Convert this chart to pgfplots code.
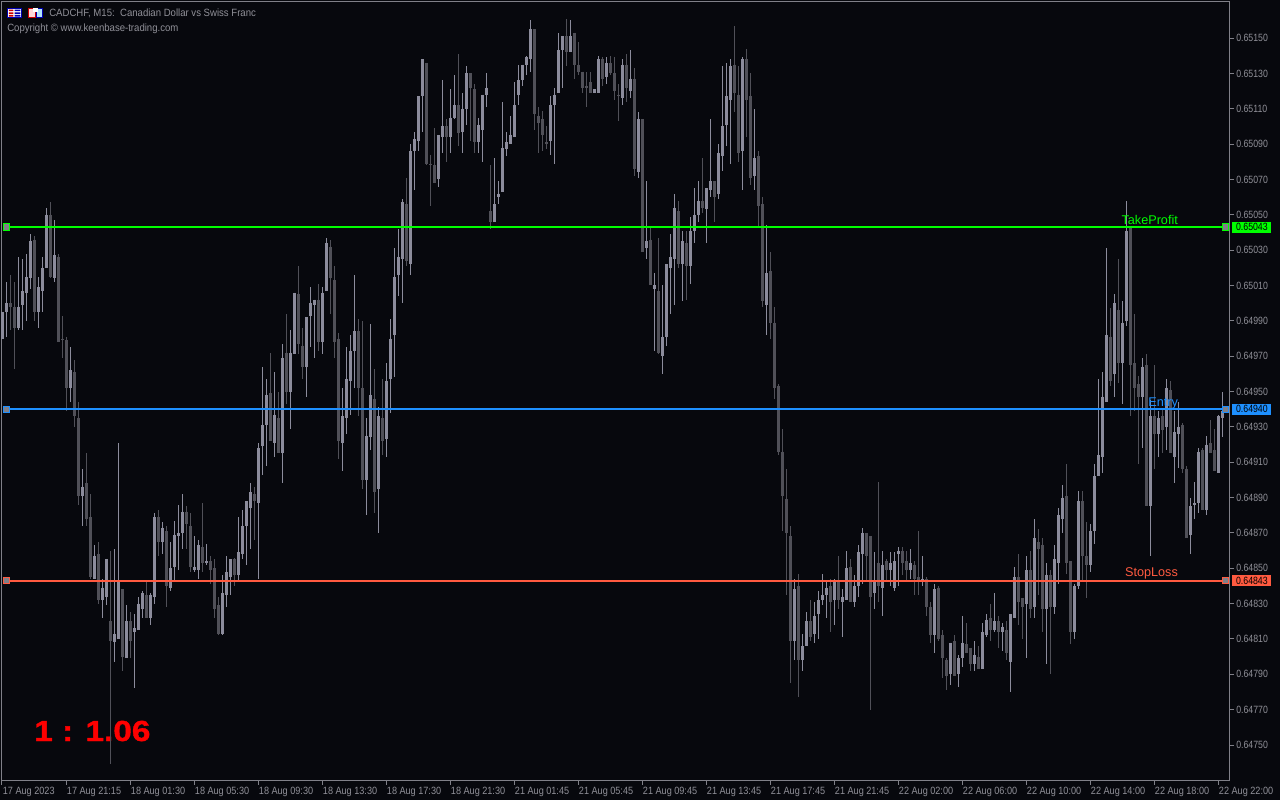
\documentclass[border=0pt]{standalone}
\usepackage{fontspec}
\setmainfont{Liberation Sans}
\newfontfamily\ytickfont[FakeStretch=0.83]{Liberation Sans}
\newfontfamily\xtickfont[FakeStretch=0.865]{Liberation Sans}
\newfontfamily\headfont[FakeStretch=0.91]{Liberation Sans}
\newfontfamily\ratiofont[FakeBold=1.2]{Liberation Sans Bold}
\usepackage{pgfplots}
\usepackage{pgfplotstable}
\pgfplotsset{compat=1.18}

\definecolor{chartbg}{HTML}{07080D}
\definecolor{framecol}{HTML}{808088}
\definecolor{textcol}{HTML}{909098}
\definecolor{upcol}{HTML}{8C8C9C}
\definecolor{dncol}{HTML}{505058}
\definecolor{tpcol}{HTML}{00FF00}
\definecolor{encol}{HTML}{1E90FF}
\definecolor{slcol}{HTML}{FF5A40}

% i high low top bottom, light candles
\pgfplotstableread{
i h l t b
0 0.64995 0.64980 0.64995 0.64980
1 0.65012 0.64981 0.65000 0.64995
4 0.65026 0.64985 0.64998 0.64986
5 0.65025 0.64985 0.65007 0.64999
6 0.65028 0.64990 0.65015 0.65006
7 0.65039 0.65008 0.65035 0.65014
9 0.65015 0.64986 0.65009 0.64995
10 0.65026 0.64995 0.65020 0.65007
11 0.65054 0.65020 0.65050 0.65020
13 0.65047 0.65012 0.65027 0.65014
17 0.64975 0.64944 0.64962 0.64952
20 0.64906 0.64874 0.64896 0.64891
23 0.64863 0.64844 0.64857 0.64844
25 0.64844 0.64822 0.64839 0.64832
26 0.64855 0.64829 0.64855 0.64834
28 0.64861 0.64797 0.64813 0.64808
29 0.64921 0.64810 0.64842 0.64810
31 0.64829 0.64799 0.64820 0.64799
33 0.64824 0.64782 0.64816 0.64814
34 0.64834 0.64815 0.64830 0.64815
35 0.64837 0.64822 0.64836 0.64827
37 0.64836 0.64818 0.64835 0.64822
38 0.64881 0.64830 0.64879 0.64834
40 0.64876 0.64858 0.64873 0.64865
42 0.64865 0.64837 0.64850 0.64839
43 0.64877 0.64842 0.64869 0.64851
44 0.64886 0.64849 0.64870 0.64868
45 0.64892 0.64861 0.64882 0.64870
48 0.64868 0.64848 0.64851 0.64849
49 0.64866 0.64844 0.64863 0.64849
51 0.64864 0.64852 0.64854 0.64853
55 0.64846 0.64812 0.64836 0.64813
56 0.64857 0.64828 0.64848 0.64835
57 0.64855 0.64835 0.64855 0.64845
59 0.64879 0.64843 0.64859 0.64846
60 0.64883 0.64855 0.64874 0.64858
61 0.64888 0.64852 0.64888 0.64874
62 0.64898 0.64861 0.64893 0.64884
64 0.64921 0.64844 0.64918 0.64887
65 0.64964 0.64903 0.64931 0.64919
66 0.64957 0.64908 0.64948 0.64931
68 0.64961 0.64913 0.64937 0.64921
70 0.64977 0.64898 0.64969 0.64915
72 0.64985 0.64929 0.64972 0.64950
73 0.65006 0.64971 0.65006 0.64971
76 0.64992 0.64947 0.64992 0.64964
77 0.65009 0.64975 0.65000 0.64993
78 0.65002 0.64969 0.65002 0.64999
80 0.65009 0.64971 0.65006 0.64978
81 0.65037 0.65007 0.65034 0.65007
85 0.64952 0.64905 0.64936 0.64921
86 0.64975 0.64926 0.64957 0.64935
87 0.64982 0.64937 0.64973 0.64956
88 0.65016 0.64952 0.64984 0.64973
91 0.64935 0.64880 0.64925 0.64900
92 0.64988 0.64917 0.64948 0.64924
94 0.64941 0.64870 0.64936 0.64895
96 0.64966 0.64913 0.64956 0.64923
97 0.64991 0.64938 0.64980 0.64957
98 0.65031 0.64958 0.65015 0.64982
99 0.65042 0.65004 0.65026 0.65016
100 0.65059 0.65000 0.65057 0.65025
102 0.65090 0.65016 0.65086 0.65022
103 0.65097 0.65064 0.65093 0.65086
104 0.65117 0.65086 0.65117 0.65092
105 0.65138 0.65097 0.65138 0.65117
109 0.65095 0.65066 0.65095 0.65070
110 0.65126 0.65085 0.65100 0.65094
112 0.65121 0.65085 0.65105 0.65094
113 0.65129 0.65104 0.65112 0.65105
115 0.65119 0.65085 0.65110 0.65097
116 0.65134 0.65101 0.65130 0.65110
119 0.65105 0.65085 0.65101 0.65091
120 0.65118 0.65080 0.65118 0.65098
121 0.65130 0.65111 0.65122 0.65118
123 0.65082 0.65046 0.65056 0.65046
124 0.65069 0.65056 0.65062 0.65060
125 0.65114 0.65063 0.65088 0.65063
126 0.65097 0.65083 0.65091 0.65087
127 0.65106 0.65090 0.65095 0.65090
128 0.65125 0.65094 0.65112 0.65094
129 0.65135 0.65112 0.65126 0.65118
130 0.65135 0.65123 0.65135 0.65126
131 0.65140 0.65129 0.65139 0.65135
132 0.65160 0.65131 0.65155 0.65138
137 0.65117 0.65084 0.65112 0.65092
138 0.65122 0.65079 0.65118 0.65112
139 0.65153 0.65119 0.65143 0.65119
140 0.65151 0.65122 0.65151 0.65143
142 0.65160 0.65142 0.65151 0.65142
148 0.65121 0.65119 0.65121 0.65119
149 0.65140 0.65119 0.65138 0.65119
151 0.65139 0.65124 0.65136 0.65128
155 0.65138 0.65112 0.65135 0.65116
157 0.65143 0.65116 0.65127 0.65120
159 0.65108 0.65071 0.65104 0.65074
161 0.65069 0.65025 0.65035 0.65031
163 0.65017 0.64973 0.65010 0.65008
165 0.65010 0.64960 0.64981 0.64970
166 0.65022 0.64976 0.65022 0.64981
167 0.65039 0.64994 0.65026 0.65020
168 0.65062 0.64999 0.65054 0.65025
170 0.65041 0.65001 0.65035 0.65022
172 0.65049 0.65011 0.65041 0.65021
173 0.65065 0.65034 0.65050 0.65041
174 0.65069 0.65046 0.65058 0.65050
176 0.65065 0.65034 0.65065 0.65053
177 0.65104 0.65060 0.65069 0.65064
179 0.65090 0.65059 0.65085 0.65062
180 0.65134 0.65075 0.65100 0.65083
181 0.65136 0.65089 0.65117 0.65101
182 0.65138 0.65079 0.65134 0.65115
185 0.65139 0.65064 0.65138 0.65086
188 0.65110 0.65064 0.65082 0.65072
191 0.65044 0.64982 0.65017 0.64999
198 0.64844 0.64798 0.64838 0.64809
200 0.64813 0.64792 0.64806 0.64798
201 0.64825 0.64806 0.64820 0.64806
203 0.64831 0.64808 0.64823 0.64813
204 0.64837 0.64810 0.64832 0.64824
205 0.64847 0.64829 0.64835 0.64832
206 0.64843 0.64822 0.64839 0.64835
208 0.64844 0.64818 0.64843 0.64832
210 0.64838 0.64811 0.64834 0.64831
211 0.64860 0.64832 0.64850 0.64832
213 0.64846 0.64828 0.64840 0.64831
214 0.64863 0.64834 0.64859 0.64840
215 0.64873 0.64841 0.64870 0.64858
218 0.64859 0.64827 0.64843 0.64836
220 0.64860 0.64823 0.64852 0.64839
222 0.64859 0.64840 0.64853 0.64849
223 0.64859 0.64837 0.64854 0.64839
224 0.64862 0.64840 0.64860 0.64858
227 0.64861 0.64844 0.64853 0.64849
230 0.64857 0.64840 0.64844 0.64842
233 0.64841 0.64802 0.64838 0.64812
237 0.64808 0.64784 0.64808 0.64790
239 0.64801 0.64783 0.64799 0.64790
240 0.64823 0.64794 0.64808 0.64799
243 0.64809 0.64792 0.64801 0.64796
245 0.64819 0.64793 0.64814 0.64793
246 0.64824 0.64811 0.64821 0.64812
248 0.64836 0.64814 0.64820 0.64815
250 0.64819 0.64803 0.64817 0.64814
252 0.64824 0.64780 0.64824 0.64797
253 0.64851 0.64822 0.64845 0.64822
256 0.64857 0.64799 0.64849 0.64830
258 0.64878 0.64822 0.64867 0.64828
261 0.64853 0.64796 0.64846 0.64827
263 0.64863 0.64824 0.64855 0.64828
264 0.64884 0.64841 0.64880 0.64853
265 0.64897 0.64870 0.64890 0.64878
268 0.64841 0.64810 0.64840 0.64814
269 0.64894 0.64838 0.64888 0.64840
272 0.64875 0.64848 0.64871 0.64852
273 0.64909 0.64864 0.64902 0.64871
274 0.64957 0.64902 0.64914 0.64902
275 0.64961 0.64904 0.64947 0.64913
276 0.65031 0.64944 0.64982 0.64944
278 0.65005 0.64947 0.65000 0.64960
280 0.65001 0.64943 0.64989 0.64966
281 0.65058 0.64987 0.65041 0.64990
285 0.64969 0.64918 0.64964 0.64947
287 0.64945 0.64857 0.64936 0.64885
289 0.64939 0.64913 0.64935 0.64926
291 0.64957 0.64917 0.64952 0.64930
293 0.64939 0.64898 0.64927 0.64913
294 0.64944 0.64907 0.64930 0.64926
297 0.64890 0.64858 0.64885 0.64869
298 0.64899 0.64878 0.64887 0.64886
299 0.64918 0.64881 0.64916 0.64887
301 0.64925 0.64880 0.64920 0.64883
304 0.64937 0.64904 0.64936 0.64904
305 0.64950 0.64924 0.64939 0.64935
}\lightbars

% same columns, dark candles
\pgfplotstableread{
i h l t b
2 0.65016 0.64985 0.65000 0.64998
3 0.65012 0.64963 0.64998 0.64986
8 0.65038 0.64990 0.65036 0.64995
12 0.65057 0.65014 0.65050 0.65015
14 0.65028 0.64978 0.65026 0.64978
15 0.64993 0.64969 0.64980 0.64979
16 0.64981 0.64939 0.64979 0.64952
18 0.64968 0.64930 0.64961 0.64936
19 0.64944 0.64886 0.64935 0.64891
21 0.64915 0.64874 0.64898 0.64878
22 0.64892 0.64844 0.64879 0.64845
24 0.64865 0.64830 0.64858 0.64832
27 0.64860 0.64739 0.64820 0.64809
30 0.64838 0.64792 0.64838 0.64800
32 0.64825 0.64799 0.64820 0.64809
36 0.64842 0.64822 0.64835 0.64822
39 0.64883 0.64857 0.64879 0.64865
41 0.64874 0.64828 0.64871 0.64840
46 0.64885 0.64861 0.64882 0.64875
47 0.64881 0.64848 0.64874 0.64851
50 0.64887 0.64848 0.64862 0.64853
52 0.64857 0.64841 0.64854 0.64849
53 0.64855 0.64822 0.64850 0.64827
54 0.64834 0.64812 0.64829 0.64813
58 0.64856 0.64840 0.64855 0.64846
63 0.64896 0.64866 0.64892 0.64888
67 0.64972 0.64922 0.64949 0.64922
69 0.64950 0.64915 0.64935 0.64915
71 0.64994 0.64943 0.64972 0.64950
74 0.65021 0.64971 0.65005 0.64977
75 0.64986 0.64957 0.64976 0.64964
79 0.65011 0.64973 0.65002 0.64978
82 0.65036 0.64994 0.65032 0.65014
83 0.65021 0.64969 0.65013 0.64978
84 0.64983 0.64912 0.64980 0.64922
89 0.64991 0.64936 0.64984 0.64952
90 0.64990 0.64895 0.64952 0.64900
93 0.64963 0.64881 0.64946 0.64893
95 0.64957 0.64914 0.64935 0.64922
101 0.65071 0.65021 0.65056 0.65024
106 0.65136 0.65078 0.65136 0.65079
107 0.65084 0.65055 0.65079 0.65078
108 0.65099 0.65068 0.65078 0.65068
111 0.65104 0.65080 0.65100 0.65094
114 0.65141 0.65089 0.65112 0.65096
117 0.65130 0.65092 0.65130 0.65122
118 0.65124 0.65085 0.65121 0.65091
122 0.65078 0.65042 0.65052 0.65046
133 0.65155 0.65098 0.65155 0.65107
134 0.65111 0.65085 0.65106 0.65102
135 0.65109 0.65086 0.65104 0.65095
136 0.65100 0.65087 0.65091 0.65090
141 0.65161 0.65134 0.65151 0.65142
143 0.65153 0.65127 0.65153 0.65135
144 0.65148 0.65129 0.65135 0.65131
145 0.65131 0.65119 0.65131 0.65122
146 0.65131 0.65111 0.65123 0.65122
147 0.65131 0.65119 0.65125 0.65119
150 0.65139 0.65123 0.65138 0.65127
152 0.65140 0.65129 0.65136 0.65130
153 0.65139 0.65115 0.65130 0.65120
154 0.65124 0.65103 0.65118 0.65117
156 0.65141 0.65114 0.65135 0.65122
158 0.65133 0.65072 0.65127 0.65076
160 0.65104 0.65029 0.65104 0.65029
162 0.65043 0.65010 0.65036 0.65010
164 0.65037 0.64971 0.65007 0.64972
169 0.65058 0.65020 0.65052 0.65022
171 0.65041 0.65002 0.65034 0.65021
175 0.65082 0.65051 0.65058 0.65054
178 0.65069 0.65046 0.65069 0.65060
183 0.65157 0.65108 0.65135 0.65119
184 0.65134 0.65080 0.65118 0.65085
186 0.65144 0.65094 0.65138 0.65115
187 0.65130 0.65067 0.65117 0.65071
189 0.65086 0.65043 0.65083 0.65055
190 0.65060 0.64998 0.65056 0.65001
192 0.65029 0.64980 0.65018 0.64989
193 0.64998 0.64946 0.64989 0.64952
194 0.64954 0.64914 0.64953 0.64916
195 0.64929 0.64871 0.64916 0.64891
196 0.64906 0.64835 0.64889 0.64870
197 0.64874 0.64785 0.64868 0.64809
199 0.64847 0.64777 0.64840 0.64798
202 0.64832 0.64809 0.64820 0.64811
207 0.64844 0.64814 0.64840 0.64831
209 0.64857 0.64827 0.64843 0.64832
212 0.64855 0.64831 0.64851 0.64831
216 0.64870 0.64843 0.64870 0.64857
217 0.64868 0.64770 0.64868 0.64834
219 0.64899 0.64831 0.64853 0.64840
221 0.64855 0.64843 0.64854 0.64849
225 0.64862 0.64846 0.64860 0.64853
226 0.64860 0.64843 0.64854 0.64849
228 0.64854 0.64835 0.64852 0.64844
229 0.64871 0.64835 0.64845 0.64843
231 0.64845 0.64823 0.64844 0.64828
232 0.64831 0.64808 0.64828 0.64812
234 0.64840 0.64809 0.64839 0.64810
235 0.64815 0.64788 0.64812 0.64799
236 0.64799 0.64781 0.64798 0.64789
238 0.64812 0.64789 0.64809 0.64789
241 0.64819 0.64802 0.64807 0.64802
242 0.64805 0.64792 0.64805 0.64796
244 0.64806 0.64793 0.64800 0.64793
247 0.64830 0.64809 0.64822 0.64815
249 0.64823 0.64805 0.64820 0.64814
251 0.64820 0.64798 0.64815 0.64802
254 0.64858 0.64818 0.64845 0.64831
255 0.64833 0.64810 0.64833 0.64828
257 0.64860 0.64822 0.64849 0.64827
259 0.64872 0.64835 0.64865 0.64861
260 0.64867 0.64814 0.64863 0.64827
262 0.64849 0.64790 0.64846 0.64828
266 0.64909 0.64847 0.64891 0.64853
267 0.64854 0.64807 0.64854 0.64814
270 0.64894 0.64843 0.64888 0.64857
271 0.64876 0.64833 0.64857 0.64852
277 0.64997 0.64953 0.64981 0.64956
279 0.65025 0.64955 0.64996 0.64966
282 0.65043 0.64936 0.65043 0.64965
283 0.64994 0.64939 0.64966 0.64952
284 0.64959 0.64909 0.64954 0.64947
286 0.64971 0.64885 0.64965 0.64885
288 0.64965 0.64906 0.64936 0.64926
290 0.64940 0.64915 0.64936 0.64928
292 0.64956 0.64915 0.64951 0.64915
295 0.64932 0.64904 0.64931 0.64906
296 0.64908 0.64867 0.64906 0.64867
300 0.64918 0.64883 0.64917 0.64883
302 0.64934 0.64915 0.64921 0.64915
303 0.64929 0.64905 0.64917 0.64905
}\darkbars

\begin{document}
\begin{tikzpicture}
\fill[chartbg] (0,0) rectangle (960pt,600pt);
\path[use as bounding box] (0,0) rectangle (960pt,600pt);

% ratio text sits under the candles
\node[anchor=base west,inner sep=0pt,text=red] at (25.5pt,44.25pt)
  {\scalebox{1.15}[1]{\ratiofont\fontsize{21.75pt}{24pt}\selectfont 1 : 1.06}};

\begin{axis}[
    at={(1.5pt,15pt)},
    anchor=south west,
    scale only axis,
    width=920.5pt,
    height=583.9pt,
    clip=false,
    xmin=-0.125, xmax=306.7,
    ymin=0.647302, ymax=0.651707,
    axis line style={framecol,line width=0.75pt},
    tick style={framecol,line width=0.75pt},
    tick align=outside,
    major tick length=3.5pt,
    xtick pos=bottom,
    ytick pos=right,
    xtick={-0.125,15.875,31.875,47.875,63.875,79.875,95.875,111.875,127.875,143.875,159.875,175.875,191.875,207.875,223.875,239.875,255.875,271.875,287.875,303.875},
    xticklabels={17 Aug 2023,17 Aug 21:15,18 Aug 01:30,18 Aug 05:30,18 Aug 09:30,18 Aug 13:30,18 Aug 17:30,18 Aug 21:30,21 Aug 01:45,21 Aug 05:45,21 Aug 09:45,21 Aug 13:45,21 Aug 17:45,21 Aug 21:45,22 Aug 02:00,22 Aug 06:00,22 Aug 10:00,22 Aug 14:00,22 Aug 18:00,22 Aug 22:00},
    ytick={0.6475,0.6477,0.6479,0.6481,0.6483,0.6485,0.6487,0.6489,0.6491,0.6493,0.6495,0.6497,0.6499,0.6501,0.6503,0.6505,0.6507,0.6509,0.6511,0.6513,0.6515},
    scaled y ticks=false,
    /pgf/number format/fixed,
    /pgf/number format/fixed zerofill,
    /pgf/number format/precision=5,
    /pgf/number format/assume math mode=true,
    tick label style={text=textcol},
    x tick label style={font=\xtickfont\fontsize{7.9pt}{9pt}\selectfont,anchor=north west,inner sep=0pt,xshift=0.5pt,yshift=-1.5pt},
    y tick label style={font=\ytickfont\fontsize{7.9pt}{9pt}\selectfont,inner sep=0pt,xshift=1.5pt},
]
% wicks, then bodies
\addplot[draw=none,no markers,forget plot,
    error bars/.cd,y dir=both,y explicit,error mark=none,error bar style={draw=dncol,line width=0.75pt}]
  table[x=i,y=t,y error plus expr=\thisrow{h}-\thisrow{t},y error minus expr=\thisrow{t}-\thisrow{l}]{\darkbars};
\addplot[draw=none,no markers,forget plot,
    error bars/.cd,y dir=minus,y explicit,error mark=none,error bar style={draw=dncol,line width=2.25pt}]
  table[x=i,y=t,y error minus expr=\thisrow{t}-\thisrow{b}]{\darkbars};
\addplot[draw=none,no markers,forget plot,
    error bars/.cd,y dir=both,y explicit,error mark=none,error bar style={draw=upcol,line width=0.75pt}]
  table[x=i,y=t,y error plus expr=\thisrow{h}-\thisrow{t},y error minus expr=\thisrow{t}-\thisrow{l}]{\lightbars};
\addplot[draw=none,no markers,forget plot,
    error bars/.cd,y dir=minus,y explicit,error mark=none,error bar style={draw=upcol,line width=2.25pt}]
  table[x=i,y=t,y error minus expr=\thisrow{t}-\thisrow{b}]{\lightbars};

% trade levels
\addplot[tpcol,line width=1.5pt,mark=square*,mark size=2.4pt,mark options={draw=tpcol,fill=framecol,line width=0.75pt}]
  coordinates {(1,0.65043)(305.75,0.65043)};
\addplot[encol,line width=1.5pt,mark=square*,mark size=2.4pt,mark options={draw=encol,fill=framecol,line width=0.75pt}]
  coordinates {(1,0.64940)(305.75,0.64940)};
\addplot[slcol,line width=1.5pt,mark=square*,mark size=2.4pt,mark options={draw=slcol,fill=framecol,line width=0.75pt}]
  coordinates {(1,0.64843)(305.75,0.64843)};

\node[anchor=base east,inner sep=0pt,text=tpcol,font=\fontsize{9.5pt}{11pt}\selectfont] at (axis cs:293.9,0.650445) {TakeProfit};
\node[anchor=base east,inner sep=0pt,text=encol,font=\fontsize{9.5pt}{11pt}\selectfont] at (axis cs:293.9,0.649415) {Entry};
\node[anchor=base east,inner sep=0pt,text=slcol,font=\fontsize{9.5pt}{11pt}\selectfont] at (axis cs:293.9,0.648452) {StopLoss};

\node[anchor=west,fill=tpcol,text=black,inner sep=0pt,minimum width=29.25pt,minimum height=8.25pt,font=\ytickfont\fontsize{7.9pt}{9pt}\selectfont] at (axis cs:307.4,0.65043) {0.65043};
\node[anchor=west,fill=encol,text=black,inner sep=0pt,minimum width=29.25pt,minimum height=8.25pt,font=\ytickfont\fontsize{7.9pt}{9pt}\selectfont] at (axis cs:307.4,0.64940) {0.64940};
\node[anchor=west,fill=slcol,text=black,inner sep=0pt,minimum width=29.25pt,minimum height=8.25pt,font=\ytickfont\fontsize{7.9pt}{9pt}\selectfont] at (axis cs:307.4,0.64843) {0.64843};
\end{axis}

% header: small icons and the two text lines
\draw[blue!70!black,fill=white,line width=0.6pt] (5.6pt,586.8pt) rectangle (16.2pt,593.8pt);
\fill[red!80!black] (6.6pt,591.6pt) rectangle (10pt,592.8pt) (6.6pt,589.6pt) rectangle (10pt,590.8pt) (6.6pt,587.6pt) rectangle (10pt,588.8pt);
\fill[blue!70!black] (11pt,591.6pt) rectangle (15.2pt,592.8pt) (11pt,589.6pt) rectangle (15.2pt,590.8pt) (11pt,587.6pt) rectangle (15.2pt,588.8pt);
\draw[red!80!black,fill=red!15,line width=0.6pt] (21.4pt,586.8pt) rectangle (26.4pt,593.8pt);
\draw[blue!70!black,fill=cyan!30,line width=0.6pt] (27pt,586.8pt) rectangle (32pt,593.8pt);
\fill[white] (24.5pt,591pt) rectangle (28.5pt,593.8pt);
\node[anchor=base west,inner sep=0pt,text=textcol,font=\headfont\fontsize{7.9pt}{9pt}\selectfont] at (36.75pt,587.25pt) {CADCHF, M15:\ \ Canadian Dollar vs Swiss Franc};
\node[anchor=base west,inner sep=0pt,text=textcol,font=\headfont\fontsize{7.9pt}{9pt}\selectfont] at (5.25pt,576.3pt) {Copyright © www.keenbase-trading.com};
\end{tikzpicture}
\end{document}
